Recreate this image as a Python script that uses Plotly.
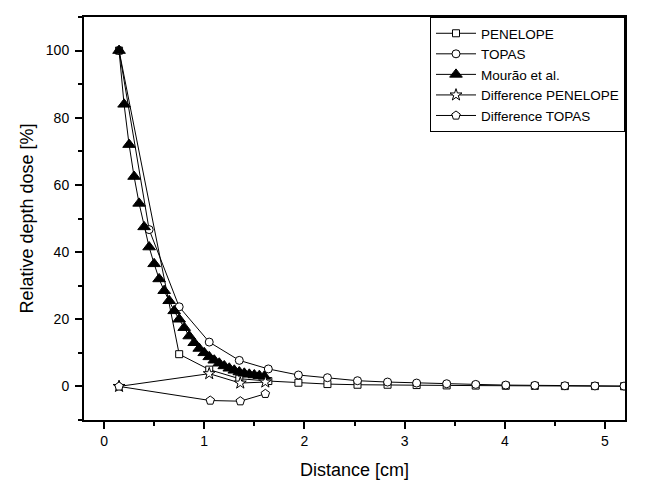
import plotly.graph_objects as go

# distances [cm] and relative depth dose [%]
x_penelope = [0.15, 0.75, 1.05, 1.35, 1.64, 1.94, 2.23, 2.53, 2.83, 3.12, 3.42, 3.71, 4.01, 4.30, 4.60, 4.90, 5.19]
y_penelope = [100, 9.6, 5.0, 2.3, 1.6, 1.1, 0.7, 0.5, 0.5, 0.4, 0.3, 0.25, 0.2, 0.15, 0.1, 0.1, 0.05]

x_topas = [0.15, 0.45, 0.75, 1.05, 1.35, 1.64, 1.94, 2.23, 2.53, 2.83, 3.12, 3.42, 3.71, 4.01, 4.30, 4.60, 4.90, 5.19]
y_topas = [100, 46.7, 23.7, 13.2, 7.75, 5.2, 3.4, 2.6, 1.7, 1.3, 1.0, 0.8, 0.6, 0.4, 0.3, 0.2, 0.15, 0.1]

x_mourao = [0.15, 0.2, 0.25, 0.3, 0.35, 0.4, 0.45, 0.5, 0.55, 0.6, 0.65, 0.7, 0.75, 0.8, 0.85,
            0.9, 0.95, 1.0, 1.05, 1.1, 1.15, 1.2, 1.25, 1.3, 1.35, 1.4, 1.45, 1.5, 1.55, 1.6]
y_mourao = [100, 84, 72, 62.5, 54.5, 47.5, 41.5, 36.5, 32, 28.5, 25.5, 22.5, 20, 17.5, 15,
            13, 11.3, 10, 8.8, 7.8, 6.9, 6.1, 5.4, 4.8, 4.3, 3.9, 3.6, 3.4, 3.2, 3.0]

x_diff_pen = [0.15, 1.05, 1.36, 1.61]
y_diff_pen = [0, 3.8, 1.0, 1.3]

x_diff_top = [0.15, 1.06, 1.36, 1.61]
y_diff_top = [0, -4.2, -4.4, -2.2]

series = [
    ('PENELOPE', x_penelope, y_penelope, 'square', 7, 'white'),
    ('TOPAS', x_topas, y_topas, 'circle', 8, 'white'),
    ('Mourão et al.', x_mourao, y_mourao, 'triangle-up', 11, 'black'),
    ('Difference PENELOPE', x_diff_pen, y_diff_pen, 'star', 9, 'white'),
    ('Difference TOPAS', x_diff_top, y_diff_top, 'pentagon', 9, 'white'),
]

fig = go.Figure()
for name, xs, ys, sym, size, fill in series:
    fig.add_trace(go.Scatter(x=xs, y=ys, name=name, mode='lines+markers',
                             line=dict(color='black', width=1),
                             marker=dict(symbol=sym, size=size, color=fill,
                                         line=dict(color='black', width=1))))

font = 'Liberation Sans, Arial, sans-serif'
axis_common = dict(showline=True, linecolor='black', linewidth=2, mirror=True,
                   showgrid=False, zeroline=False, ticks='outside', ticklen=7,
                   tickwidth=2, tickcolor='black', automargin=False,
                   tickfont=dict(size=14, color='black', family=font))

fig.update_xaxes(range=[-0.2, 5.2], dtick=1, tick0=0, ticklabelstandoff=0,
                 minor=dict(ticks='outside', ticklen=4, tickwidth=2, dtick=0.5, tickcolor='black'),
                 title=dict(text='Distance [cm]', font=dict(size=18, color='black', family=font), standoff=16),
                 **axis_common)
fig.update_yaxes(range=[-10, 110], dtick=20, tick0=0, ticklabelstandoff=3,
                 minor=dict(ticks='outside', ticklen=4, tickwidth=2, dtick=10, tickcolor='black'),
                 title=dict(text='Relative depth dose [%]', font=dict(size=18, color='black', family=font), standoff=8),
                 **axis_common)

# page body adds an 8px offset, so the figure is a bit smaller than the window
fig.update_layout(width=651, height=479, template='plotly_white',
                  paper_bgcolor='white', plot_bgcolor='white',
                  margin=dict(l=76, r=34, t=9, b=67),
                  font=dict(family=font, color='black'),
                  legend=dict(x=1, y=1, xanchor='right', yanchor='top',
                              bgcolor='white', bordercolor='black', borderwidth=1,
                              font=dict(size=13.5, color='black', family=font),
                              itemwidth=40, tracegroupgap=0))

fig.write_html("out.html")
